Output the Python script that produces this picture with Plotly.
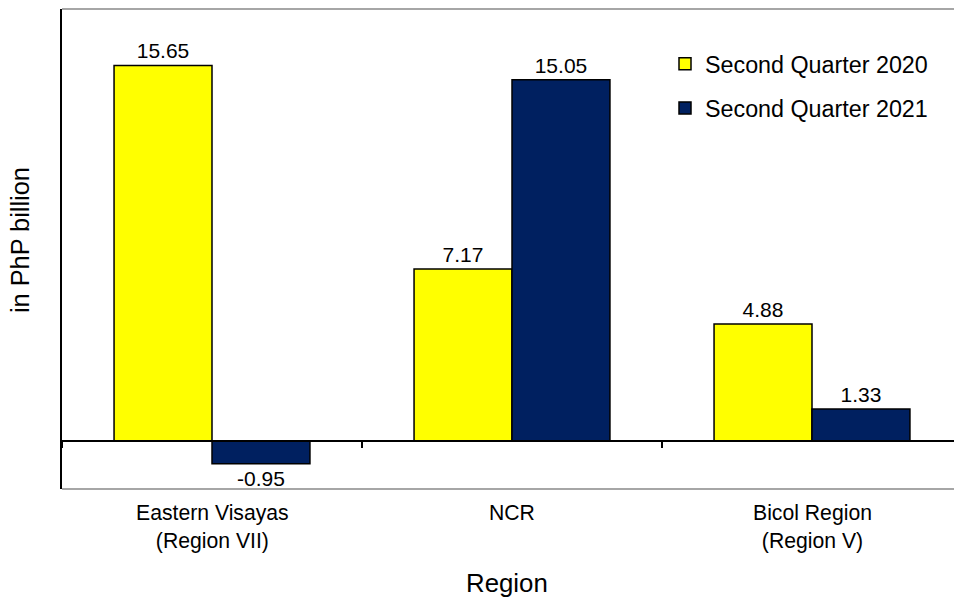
import plotly.graph_objects as go

categories = ["Eastern Visayas<br>(Region VII)", "NCR", "Bicol Region<br>(Region V)"]
series_names = ["Second Quarter 2020", "Second Quarter 2021"]
q2_2020 = [15.65, 7.17, 4.88]
q2_2021 = [-0.95, 15.05, 1.33]
colors = ["#FFFF00", "#002060"]
y_title = "in PhP billion"
x_title = "Region"

FONT = "Arial, Liberation Sans, sans-serif"
W, H = 954, 601
ML, MR, MT, MB = 62, 0, 9, 112
plot_w = W - ML - MR
plot_h = H - MT - MB

fig = go.Figure()
for name, vals, col, grp in zip(series_names, [q2_2020, q2_2021], colors, ["a", "b"]):
    fig.add_trace(go.Bar(
        x=categories, y=vals, name=name, legendgroup=grp,
        marker=dict(color=col, line=dict(color="black", width=1.5)),
        text=[f"{v:.2f}" for v in vals], textposition="outside",
        textfont=dict(family=FONT, size=21, color="black"),
        cliponaxis=False,
    ))

y_range = [-2, 18]
zero_frac = (0 - y_range[0]) / (y_range[1] - y_range[0])

# category labels under the plot
for c in categories:
    fig.add_annotation(x=c, xref="x", y=0, yref="paper", text=c, showarrow=False,
                       yanchor="top", yshift=-10,
                       font=dict(family=FONT, size=21.2, color="black"))

fig.add_annotation(x=(20 - ML) / plot_w, xref="paper", y=(MT + plot_h - 240) / plot_h, yref="paper",
                   text=y_title, textangle=-90, showarrow=False, xanchor="center", yanchor="middle",
                   font=dict(family=FONT, size=25.3, color="black"))
fig.add_annotation(x=(507 - ML) / plot_w, xref="paper", y=(MT + plot_h - 583) / plot_h, yref="paper",
                   text=x_title, showarrow=False, xanchor="center", yanchor="middle",
                   font=dict(family=FONT, size=25.8, color="black"))

# plot area top/bottom border
for yy in (0, 1):
    fig.add_shape(type="line", xref="paper", yref="paper", x0=0, x1=1, y0=yy, y1=yy,
                  line=dict(color="#A6A6A6", width=2), layer="below")

fig.update_layout(
    width=W, height=H,
    margin=dict(l=ML, r=MR, t=MT, b=MB, autoexpand=False),
    paper_bgcolor="white", plot_bgcolor="white",
    barmode="group", bargap=0.347, bargroupgap=0,
    font=dict(family=FONT, color="black"),
    showlegend=True,
    legend=dict(xref="container", yref="container", x=665 / W, y=1 - 42 / H,
                xanchor="left", yanchor="top", bgcolor="rgba(0,0,0,0)",
                font=dict(family=FONT, size=23.3, color="black"),
                traceorder="grouped", tracegroupgap=11),
    xaxis=dict(type="category", range=[-0.5, -0.5 + plot_w / 300], anchor="free", position=zero_frac,
               showline=True, linecolor="black", linewidth=1.5,
               ticks="outside", ticklen=6, tickwidth=1.5, tickcolor="black", tickson="boundaries",
               showticklabels=False, showgrid=False, zeroline=False),
    yaxis=dict(range=y_range, showline=True, linecolor="black", linewidth=1.5,
               ticks="", showticklabels=False, showgrid=False, zeroline=False),
)

fig.write_html("out.html", config={"displayModeBar": False},
               post_script="document.body.style.margin='0px';document.body.style.overflow='hidden';")
